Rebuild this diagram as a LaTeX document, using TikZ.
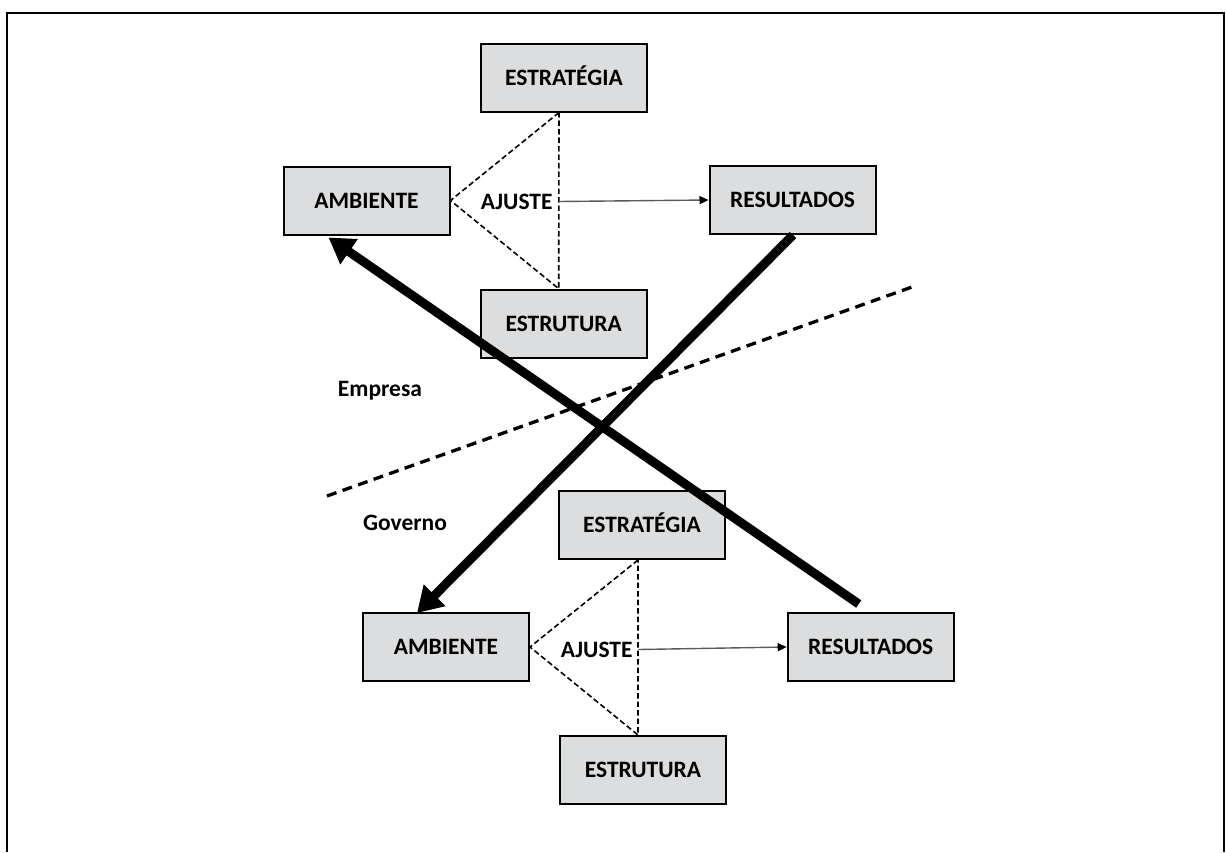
\documentclass[tikz,border=0pt]{standalone}
\usepackage{fontspec}
\setmainfont{Carlito}
\usetikzlibrary{arrows.meta}
\definecolor{boxgray}{RGB}{220,221,223}
\definecolor{linkgray}{RGB}{90,90,90}
\begin{document}
\begin{tikzpicture}[x=1pt,y=-1pt,
  every node/.style={font=\fontsize{23.5}{28}\selectfont\bfseries, inner sep=0pt},
  block/.style={draw=black, line width=2pt, fill=boxgray, minimum width=166pt,
    minimum height=68pt, text height=15pt, text depth=0pt},
  fitline/.style={line width=1.6pt, dash pattern=on 5.5pt off 3pt},
  divider/.style={line width=3.3pt, dash pattern=on 10pt off 6.5pt},
  flow/.style={line width=9pt, -{Triangle[length=25pt,width=29pt]}},
  result/.style={draw=linkgray, line width=1.4pt, -{Triangle[length=9pt,width=8pt,color=black]}}
]
\useasboundingbox (0,0) rectangle (1226,852);
% outer frame, open at the bottom
\draw[line width=2.5pt] (7,852) -- (7,13) -- (1224,13) -- (1224,852);

% upper group: Empresa
\node[block] (est1)  at (564,77.5)  {ESTRATÉGIA};
\node[block] (amb1)  at (366.5,200.5) {AMBIENTE};
\node[block] (res1)  at (792.5,200) {RESULTADOS};
\node[block] (estr1) at (563.7,323.7) {ESTRUTURA};
\node (aj1) at (516.7,202) {AJUSTE};

% lower group: Governo
\node[block] (est2)  at (642,525)   {ESTRATÉGIA};
\node[block] (amb2)  at (446,647)   {AMBIENTE};
\node[block] (res2)  at (870.7,647) {RESULTADOS};
\node[block] (estr2) at (643,770)   {ESTRUTURA};
\node (aj2) at (596.7,650) {AJUSTE};

\node[anchor=base] (emp) at (380,396.7) {Empresa};
\node[anchor=base] (gov) at (405,530)   {Governo};

% fit triangles
\draw[fitline] ([xshift=-5pt]est1.south) -- (amb1.east) -- ([xshift=-5pt]estr1.north) -- cycle;
\draw[fitline] ([xshift=-4pt]est2.south) -- (amb2.east) -- ([xshift=-5pt]estr2.north) -- cycle;
\coordinate (j1) at (559,201.5);
\coordinate (j2) at (638.3,649.5);
\draw[result] (j1) -- (res1.west);
\draw[result] (j2) -- (res2.west);

% boundary between company and government
\coordinate (d1) at (327,496);
\coordinate (d2) at (912,287);
\draw[divider] (d1) -- (d2);

% crossing flows
\draw[flow] ([xshift=0.5pt]res1.south) -- ([xshift=-29pt,yshift=-1pt]amb2.north);
\draw[flow] ([xshift=-12pt,yshift=8pt]res2.north) -- ([xshift=-38pt,yshift=-2pt]amb1.south);
\end{tikzpicture}
\end{document}
